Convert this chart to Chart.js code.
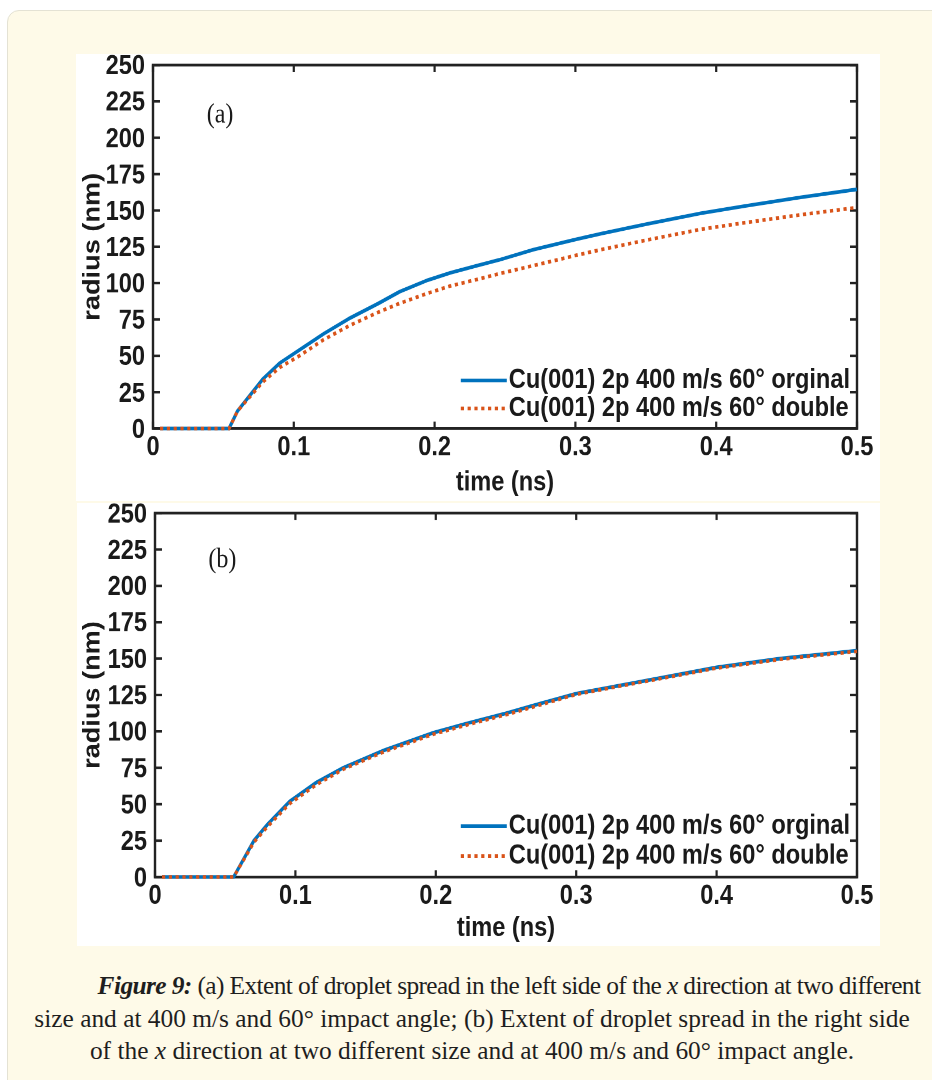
<!DOCTYPE html>
<html><head><meta charset="utf-8">
<script src="https://cdn.jsdelivr.net/npm/chart.js@4.4.1/dist/chart.umd.min.js"></script>
<style>
html,body{margin:0;padding:0;background:#ffffff;width:932px;height:1080px;overflow:hidden;position:relative;}
#frame{position:absolute;left:7px;top:10px;width:950px;height:1100px;background:#fefae8;border:1.5px solid #e4e2d4;border-radius:12px;box-sizing:border-box;}
.panel{position:absolute;background:#ffffff;overflow:visible;}
.stretch{position:absolute;left:0;transform-origin:0 0;transform:scaleY(1.15);}
.cap{position:absolute;height:33px;line-height:33px;text-align:center;font-family:'Liberation Serif','Times New Roman',serif;font-size:25.4px;color:#1e1e1e;white-space:nowrap;}
</style></head>
<body>
<div id="frame"></div>
<div class="panel" style="left:76px;top:54px;width:804px;height:447px;">
  <div class="stretch" style="top:-4px;width:804px;height:392.5px;"><canvas id="chartA"></canvas></div>
</div>
<div class="panel" style="left:77px;top:503px;width:803px;height:443px;">
  <div class="stretch" style="top:-8px;width:803px;height:392px;"><canvas id="chartB"></canvas></div>
</div>
<div class="cap" style="left:0;width:1018px;top:969px;letter-spacing:-0.6px;"><b><i>Figure 9:</i></b> (a) Extent of droplet spread in the left side of the <i>x</i> direction at two different</div>
<div class="cap" style="left:0;width:944px;top:1002px;">size and at 400 m/s and 60° impact angle; (b) Extent of droplet spread in the right side</div>
<div class="cap" style="left:0;width:944px;top:1034px;">of the <i>x</i> direction at two different size and at 400 m/s and 60° impact angle.</div>
<script>
// ---- data ----
const seriesLabels = ['Cu(001) 2p 400 m/s 60° orginal', 'Cu(001) 2p 400 m/s 60° double'];
const panelLabels = ['(a)', '(b)'];
const xTickLabels = ['0', '0.1', '0.2', '0.3', '0.4', '0.5'];
const yTickLabels = ['0', '25', '50', '75', '100', '125', '150', '175', '200', '225', '250'];
const xTitle = 'time (ns)';
const yTitle = 'radius (nm)';

// panel (a): left side of x direction
const timeA = [0.005, 0.054, 0.060, 0.078, 0.090, 0.104, 0.121, 0.140, 0.160, 0.175, 0.195, 0.211, 0.230, 0.246, 0.270, 0.300, 0.318, 0.350, 0.389, 0.420, 0.460, 0.500];
const origA = [0, 0, 12, 34, 45, 54, 65, 76, 86, 94, 102, 107, 112, 116, 123, 130, 134, 140.5, 148, 153, 159, 164.5];
const dblA  = [0, 0, 12, 32, 42, 50, 61, 71, 80, 86, 93, 98, 102.5, 106.5, 112, 119, 123, 129.5, 137, 141.5, 147, 152];

// panel (b): right side of x direction
const timeB = [0.005, 0.056, 0.0705, 0.080, 0.096, 0.115, 0.134, 0.163, 0.198, 0.222, 0.250, 0.270, 0.300, 0.350, 0.400, 0.445, 0.500];
const origB = [0, 0, 25, 36, 52, 65, 75, 87, 99, 105.5, 112.5, 118, 126, 135, 144, 150, 155.5];
const dblB  = [0, 0, 24, 34.5, 50.5, 63.5, 74, 86, 98, 104.5, 111.5, 117, 125.5, 134.5, 143.5, 149.5, 155];

// ---- styling ----
const AXIS = '#222222';
const FONT = "'Liberation Sans', Arial, sans-serif";
const FSIZE = 23.6;
Chart.defaults.font.family = FONT;
Chart.defaults.font.size = FSIZE;
Chart.defaults.font.weight = 'bold';
Chart.defaults.color = '#1a1a1a';

const framePlugin = {
  id: 'frame',
  beforeDatasetsDraw(chart, args, opts) {
    const {ctx, chartArea: a, scales: {x, y}} = chart;
    ctx.save();
    ctx.strokeStyle = AXIS;
    ctx.lineWidth = 2.4;
    ctx.strokeRect(a.left, a.top, a.width, a.height);
    ctx.lineWidth = 2.2;
    ctx.beginPath();
    x.ticks.forEach(t => {
      const px = x.getPixelForValue(t.value);
      ctx.moveTo(px, a.bottom); ctx.lineTo(px, a.bottom - 6);
      ctx.moveTo(px, a.top); ctx.lineTo(px, a.top + 6);
    });
    y.ticks.forEach(t => {
      const py = y.getPixelForValue(t.value);
      ctx.moveTo(a.left, py); ctx.lineTo(a.left + 7, py);
      ctx.moveTo(a.right, py); ctx.lineTo(a.right - 7, py);
    });
    ctx.stroke();
    // panel letter, placed in data coordinates
    ctx.fillStyle = '#1a1a1a';
    ctx.font = "24px 'Liberation Serif', 'Times New Roman', serif";
    ctx.textAlign = 'center';
    ctx.textBaseline = 'middle';
    ctx.fillText(opts.label, x.getPixelForValue(opts.labelAt[0]), y.getPixelForValue(opts.labelAt[1]));
    ctx.restore();
  },
  afterDatasetsDraw(chart, args, opts) {
    const {ctx, chartArea: a} = chart;
    ctx.save();
    ctx.font = 'bold ' + FSIZE + 'px ' + FONT;
    ctx.textBaseline = 'middle';
    ctx.textAlign = 'left';
    const ds = chart.data.datasets;
    const w = Math.max(...ds.map(d => ctx.measureText(d.label).width));
    const textLeft = a.right - 7 - w;
    ds.forEach((d, i) => {
      const yy = a.bottom - opts.rows[i];
      ctx.strokeStyle = d.borderColor;
      ctx.lineWidth = d.borderWidth;
      ctx.setLineDash(d.borderDash || []);
      ctx.beginPath();
      ctx.moveTo(textLeft - 48, yy); ctx.lineTo(textLeft - 2, yy);
      ctx.stroke();
      ctx.setLineDash([]);
      ctx.fillStyle = '#1a1a1a';
      ctx.fillText(d.label, textLeft, yy);
    });
    ctx.restore();
  }
};

function makeChart(id, times, orig, dbl, cfg) {
  return new Chart(document.getElementById(id), {
    type: 'line',
    data: {
      datasets: [
        { label: seriesLabels[0], data: times.map((t, i) => ({x: t, y: orig[i]})),
          borderColor: '#0072BD', borderWidth: 3.2, pointRadius: 0, tension: 0, order: 1, clip: 8 },
        { label: seriesLabels[1], data: times.map((t, i) => ({x: t, y: dbl[i]})),
          borderColor: '#D95319', borderWidth: 3.2, borderDash: [3.2, 3.6], pointRadius: 0, tension: 0, order: 0, clip: 8 }
      ]
    },
    options: {
      responsive: true, maintainAspectRatio: false, animation: false, devicePixelRatio: 2,
      layout: { padding: { top: cfg.padTop, right: 23, left: 0, bottom: 0 } },
      plugins: {
        legend: { display: false }, tooltip: { enabled: false },
        frame: { label: cfg.label, labelAt: cfg.labelAt, rows: cfg.rows }
      },
      scales: {
        x: {
          type: 'linear', min: 0, max: 0.5,
          grid: { display: false, drawTicks: false }, border: { display: false },
          ticks: { stepSize: 0.1, padding: 2.4, autoSkip: false, maxRotation: 0,
                   callback: (v, i) => xTickLabels[i] },
          title: { display: true, text: xTitle, padding: { top: 0, bottom: cfg.xTitlePad } },
          afterFit: s => { s.height = cfg.xH; s.paddingLeft = 0; s.paddingRight = 0; }
        },
        y: {
          type: 'linear', min: 0, max: 250,
          grid: { display: false, drawTicks: false }, border: { display: false },
          ticks: { stepSize: 25, padding: 8, autoSkip: false, maxTicksLimit: 20, labelOffset: 1.6,
                   callback: (v, i) => yTickLabels[i] },
          title: { display: true, text: yTitle, padding: { top: cfg.yTitlePad, bottom: 0 } },
          afterFit: s => { s.width = cfg.yW; s.paddingTop = 0; s.paddingBottom = 0; }
        }
      }
    },
    plugins: [framePlugin]
  });
}

makeChart('chartA', timeA, origA, dblA, {
  padTop: 13.05, xH: 63.8, yW: 77, xTitlePad: 2.6, yTitlePad: 2.8,
  label: panelLabels[0], labelAt: [0.0476, 215.6], rows: [41.7, 17.4]
});
makeChart('chartB', timeB, origB, dblB, {
  padTop: 15.66, xH: 59.8, yW: 78, xTitlePad: 0.8, yTitlePad: 1.9,
  label: panelLabels[1], labelAt: [0.048, 217.7], rows: [44.3, 18.3]
});
</script>
</body></html>
